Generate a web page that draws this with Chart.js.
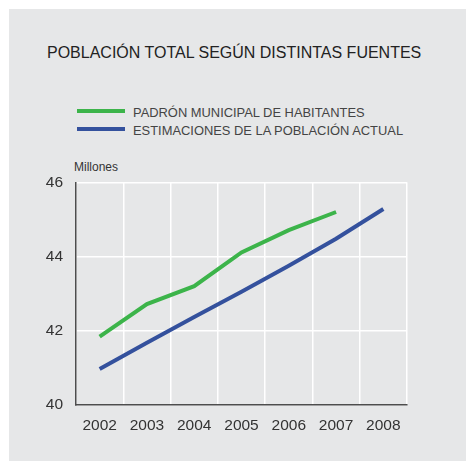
<!DOCTYPE html>
<html>
<head>
<meta charset="utf-8">
<script src="https://cdn.jsdelivr.net/npm/chart.js@4/dist/chart.umd.min.js"></script>
<style>
  html, body { margin:0; padding:0; background:#fff; width:466px; height:461px; overflow:hidden; }
  body { position:relative; font-family:'Liberation Sans', Arial, sans-serif; }
  #panel { position:absolute; left:9px; top:9px; width:457px; height:452px; background:#e6e7e8; }
  .txt { position:absolute; line-height:1; white-space:nowrap; }
  #title { left:47px; top:45px; font-size:16px; color:#222; }
  .lg-line { position:absolute; left:77px; width:48px; height:4px; }
  .lg-txt { left:133px; font-size:12.9px; color:#444; }
  #units { left:74px; top:161px; font-size:12px; color:#333; }
  #wrap { position:absolute; left:9px; top:160px; width:457px; height:301px; }
</style>
</head>
<body>
<div id="panel"></div>
<div id="title" class="txt">POBLACIÓN TOTAL SEGÚN DISTINTAS FUENTES</div>
<div class="lg-line" style="top:109px;background:#3cb44a"></div>
<div class="txt lg-txt" style="top:107px">PADRÓN MUNICIPAL DE HABITANTES</div>
<div class="lg-line" style="top:127px;background:#34519d"></div>
<div class="txt lg-txt" style="top:125px">ESTIMACIONES DE LA POBLACIÓN ACTUAL</div>
<div id="units" class="txt">Millones</div>
<div id="wrap"><canvas id="chart"></canvas></div>
<script>
// ── Datos (millones de habitantes) ──────────────────────────
const years = ['2002','2003','2004','2005','2006','2007','2008'];
const padron = [41.84, 42.72, 43.20, 44.11, 44.71, 45.20, null];
const estimaciones = [40.97, 41.68, 42.37, 43.05, 43.75, 44.48, 45.28];
const yTicks = [40, 42, 44, 46];

new Chart(document.getElementById('chart'), {
    type: 'line',
    data: {
        labels: years,
        datasets: [
            { label:'PADRÓN MUNICIPAL DE HABITANTES', data:padron, borderColor:'#3cb44a', borderWidth:4, pointRadius:0, tension:0, spanGaps:false },
            { label:'ESTIMACIONES DE LA POBLACIÓN ACTUAL', data:estimaciones, borderColor:'#34519d', borderWidth:4, pointRadius:0, tension:0 },
        ]
    },
    options: {
        responsive:true, maintainAspectRatio:false, animation:false,
        layout:{ padding:{ top:3, right:59, left:0, bottom:0 } },
        plugins:{ legend:{ display:false }, tooltip:{ enabled:false } },
        scales:{
            x:{
                offset:true,
                grid:{ offset:true, color:'#ffffff', lineWidth:1.5, drawTicks:false },
                border:{ color:'#4d4d4d', width:1.5 },
                ticks:{ color:'#333', padding:11, font:{ family:"'Liberation Sans', Arial, sans-serif", size:15.5 } },
                afterFit: a => { a.height = 56; }
            },
            y:{
                min:40, max:46,
                afterBuildTicks: a => { a.ticks = yTicks.map(v => ({ value:v })); },
                grid:{ color:'#ffffff', lineWidth:1.5, drawTicks:false },
                border:{ color:'#4d4d4d', width:1.5 },
                ticks:{ color:'#333', padding:13, font:{ family:"'Liberation Sans', Arial, sans-serif", size:15.5 } },
                afterFit: a => { a.width = 67; }
            }
        }
    }
});
</script>
</body>
</html>
